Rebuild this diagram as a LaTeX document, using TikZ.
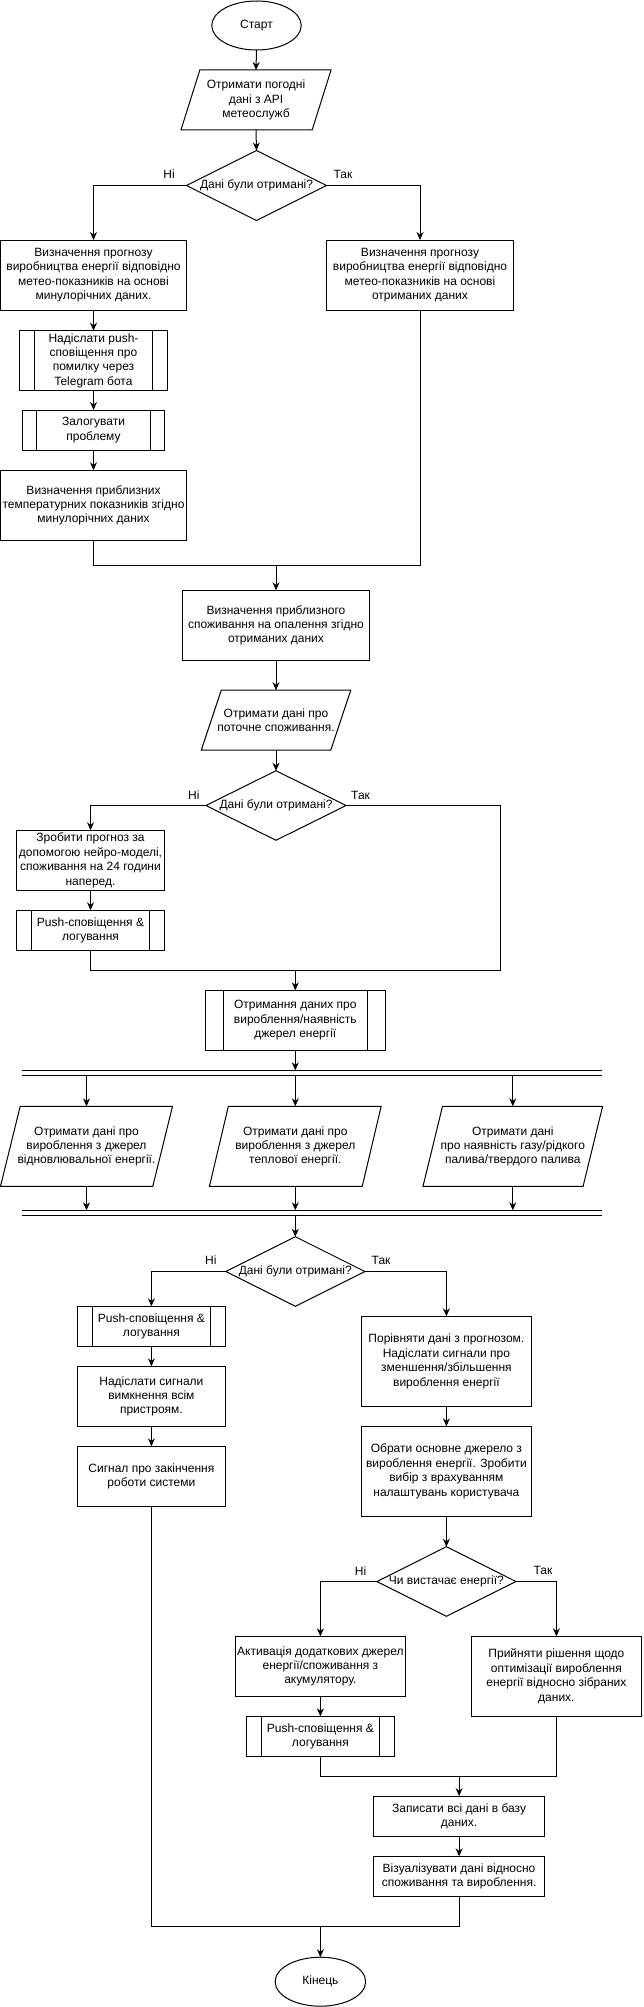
\documentclass[tikz,border=0pt]{standalone}
\usepackage{fontspec}
\setmainfont{Liberation Sans}
\usetikzlibrary{shapes.geometric,arrows.meta,calc}
\begin{document}
\begin{tikzpicture}[x=1pt,y=-1pt,line width=1pt,
  txt/.style={font=\fontsize{12pt}{14.4pt}\selectfont, align=center, inner sep=0pt, outer sep=0pt},
  box/.style={txt, draw, rectangle},
  subproc/.style={box, path picture={\draw[line width=1pt] ([xshift=#1]path picture bounding box.north west) -- ([xshift=#1]path picture bounding box.south west) ([xshift=-#1]path picture bounding box.north east) -- ([xshift=-#1]path picture bounding box.south east);}},
  term/.style={txt, draw, ellipse},
  dec/.style={txt, draw, diamond},
  io/.style={txt, rectangle},
  lbl/.style={txt},
  arr/.style={-{Stealth[length=8pt,width=7pt]}},
  bar/.style={rectangle, inner sep=0pt, outer sep=0pt, minimum height=5pt, minimum width=580pt}
]
\useasboundingbox (0,0) rectangle (643,2007);

% ---- top part
\node[term, minimum width=89.5pt, minimum height=49pt] (start) at (256.5,25.5) {Старт};
\node[io, minimum width=150.1pt, minimum height=60pt] (io1) at (256,100) {Отримати погодні\\дані з API\\метеослужб};
\draw ([xshift=18.9pt]io1.north west) -- (io1.north east) -- ([xshift=-18.9pt]io1.south east) -- (io1.south west) -- cycle;
\node[dec, minimum width=140.2pt, minimum height=70pt] (d1) at (256.5,185.5) {\makebox[0pt]{Дані були отримані?}};
\node[box, minimum width=186pt, minimum height=70pt] (b1L) at (93.5,275) {Визначення прогнозу\\виробництва енергії відповідно\\метео-показників на основі\\минулорічних даних.};
\node[box, minimum width=186.7pt, minimum height=70pt] (b1R) at (420,275) {Визначення прогнозу\\виробництва енергії відповідно\\метео-показників на основі\\отриманих даних};
\node[subproc=15pt, minimum width=148.2pt, minimum height=59.6pt] (sp1) at (93.5,360.5) {Надіслати push-\\сповіщення про\\помилку через\\Telegram бота};
\node[subproc=14pt, minimum width=142.2pt, minimum height=40pt] (sp2) at (93.5,430) {Залогувати\\проблему};
\node[box, minimum width=186pt, minimum height=70pt] (b2L) at (93.5,505.3) {Визначення приблизних\\температурних показників згідно\\минулорічних даних};
\coordinate (m1) at (276,565.3);
\node[box, minimum width=186.5pt, minimum height=70pt] (b3) at (276,625.3) {Визначення приблизного\\споживання на опалення згідно\\отриманих даних};
\node[io, minimum width=149.5pt, minimum height=60pt] (io2) at (276,720.2) {Отримати дані про\\поточне споживання.};
\draw ([xshift=20pt]io2.north west) -- (io2.north east) -- ([xshift=-20pt]io2.south east) -- (io2.south west) -- cycle;
\node[dec, minimum width=140.2pt, minimum height=69.5pt] (d2) at (276,805.5) {\makebox[0pt]{Дані були отримані?}};
\node[box, minimum width=148pt, minimum height=60pt] (b4) at (90.5,860.3) {Зробити прогноз за\\допомогою нейро-моделі,\\споживання на 24 години\\наперед.};
\node[subproc=15pt, minimum width=148pt, minimum height=40pt] (sp3) at (90.5,930.3) {Push-сповіщення \&\\логування};
\coordinate (m2) at (295.3,970.3);
\coordinate (r2) at (500.8,970.3);
\node[subproc=18.5pt, minimum width=180.5pt, minimum height=59.7pt] (sp4) at (295.3,1020.2) {Отримання даних про\\вироблення/наявність\\джерел енергії};

% ---- parallel block
\node[bar] (bar1) at (311.7,1072.8) {};
\draw (bar1.north west) -- (bar1.north east) (bar1.south west) -- (bar1.south east);
\node[io, minimum width=172pt, minimum height=80pt] (ioA) at (86.5,1146.3) {Отримати дані про\\вироблення з джерел\\відновлювальної енергії.};
\draw ([xshift=19.7pt]ioA.north west) -- (ioA.north east) -- ([xshift=-19.7pt]ioA.south east) -- (ioA.south west) -- cycle;
\node[io, minimum width=171.7pt, minimum height=80pt] (ioB) at (295.3,1146.3) {Отримати дані про\\вироблення з джерел\\теплової енергії.};
\draw ([xshift=18.9pt]ioB.north west) -- (ioB.north east) -- ([xshift=-18.9pt]ioB.south east) -- (ioB.south west) -- cycle;
\node[io, minimum width=179.6pt, minimum height=80pt] (ioC) at (512.8,1146.3) {Отримати дані\\про наявність газу/рідкого\\палива/твердого палива};
\draw ([xshift=19.5pt]ioC.north west) -- (ioC.north east) -- ([xshift=-19.5pt]ioC.south east) -- (ioC.south west) -- cycle;
\node[bar] (bar2) at (311.7,1212.8) {};
\draw (bar2.north west) -- (bar2.north east) (bar2.south west) -- (bar2.south east);

% ---- lower part
\node[dec, minimum width=139.2pt, minimum height=69.6pt] (d3) at (295.3,1271.5) {\makebox[0pt]{Дані були отримані?}};
\node[subproc=15.1pt, minimum width=148.3pt, minimum height=40pt] (sp5) at (151.4,1326.3) {Push-сповіщення \&\\логування};
\node[box, minimum width=147.6pt, minimum height=60pt] (b5) at (151.4,1396.3) {Надіслати сигнали\\вимкнення всім\\пристроям.};
\node[box, minimum width=147.6pt, minimum height=60pt] (b6) at (151.4,1476.3) {Сигнал про закінчення\\роботи системи};
\node[box, minimum width=170.5pt, minimum height=90pt] (b7) at (446.4,1361.3) {Порівняти дані з прогнозом.\\Надіслати сигнали про\\зменшення/збільшення\\вироблення енергії};
\node[box, minimum width=170.5pt, minimum height=90pt] (b8) at (446.4,1471.3) {Обрати основне джерело з\\вироблення енергії. Зробити\\вибір з врахуванням\\налаштувань користувача};
\node[dec, minimum width=139pt, minimum height=69.6pt] (d4) at (446.4,1581.5) {\makebox[0pt]{Чи вистачає енергії?}};
\node[box, minimum width=170pt, minimum height=60pt] (b9) at (320.4,1666.3) {Активація додаткових джерел\\енергії/споживання з\\акумулятору.};
\node[subproc=15.2pt, minimum width=148.3pt, minimum height=40pt] (sp6) at (320.4,1736.3) {Push-сповіщення \&\\логування};
\node[box, minimum width=170pt, minimum height=80pt] (b10) at (556.4,1676.3) {Прийняти рішення щодо\\оптимізації вироблення\\енергії відносно зібраних\\даних.};
\coordinate (m3) at (459.1,1776.3);
\node[box, minimum width=170.4pt, minimum height=40.3pt] (b11) at (459.1,1816.2) {Записати всі дані в базу\\даних.};
\node[box, minimum width=170.4pt, minimum height=40pt] (b12) at (459.1,1876.3) {Візуалізувати дані відносно\\споживання та вироблення.};
\coordinate (m4) at (320.4,1926);
\node[term, minimum width=90.5pt, minimum height=49pt] (stop) at (320.4,1981.7) {Кінець};

% ---- labels
\node[lbl] (n1) at (169,174) {Ні};
\node[lbl] (y1) at (343,174) {Так};
\node[lbl] (n2) at (193.9,795) {Ні};
\node[lbl] (y2) at (360.6,795) {Так};
\node[lbl] (n3) at (210.8,1260) {Ні};
\node[lbl] (y3) at (381.1,1260) {Так};
\node[lbl] (n4) at (360.6,1570.7) {Ні};
\node[lbl] (y4) at (542.9,1570.7) {Так};

% ---- connectors
\draw[arr] (start.south) -- (io1.north);
\draw[arr] (io1.south) -- (d1.north);
\draw[arr] (d1.west) -| (b1L.north);
\draw[arr] (d1.east) -| (b1R.north);
\draw[arr] (b1L.south) -- (sp1.north);
\draw[arr] (sp1.south) -- (sp2.north);
\draw[arr] (sp2.south) -- (b2L.north);
\draw (b2L.south) |- (m1);
\draw (b1R.south) |- (m1);
\draw[arr] (m1) -- (b3.north);
\draw[arr] (b3.south) -- (io2.north);
\draw[arr] (io2.south) -- (d2.north);
\draw[arr] (d2.west) -| (b4.north);
\draw[arr] (b4.south) -- (sp3.north);
\draw (sp3.south) |- (m2);
\draw (d2.east) -| (r2) -- (m2);
\draw[arr] (m2) -- (sp4.north);
\draw[arr] (sp4.south) -- (sp4.south |- bar1.north);
\draw[arr] (ioA.north |- bar1.south) -- (ioA.north);
\draw[arr] (ioB.north |- bar1.south) -- (ioB.north);
\draw[arr] (ioC.north |- bar1.south) -- (ioC.north);
\draw[arr] (ioA.south) -- (ioA.south |- bar2.north);
\draw[arr] (ioB.south) -- (ioB.south |- bar2.north);
\draw[arr] (ioC.south) -- (ioC.south |- bar2.north);
\draw[arr] (d3.north |- bar2.south) -- (d3.north);
\draw[arr] (d3.west) -| (sp5.north);
\draw[arr] (d3.east) -| (b7.north);
\draw[arr] (sp5.south) -- (b5.north);
\draw[arr] (b5.south) -- (b6.north);
\draw (b6.south) |- (m4);
\draw[arr] (b7.south) -- (b8.north);
\draw[arr] (b8.south) -- (d4.north);
\draw[arr] (d4.west) -| (b9.north);
\draw[arr] (d4.east) -| (b10.north);
\draw[arr] (b9.south) -- (sp6.north);
\draw (sp6.south) |- (m3);
\draw (b10.south) |- (m3);
\draw[arr] (m3) -- (b11.north);
\draw[arr] (b11.south) -- (b12.north);
\draw (b12.south) |- (m4);
\draw[arr] (m4) -- (stop.north);
\end{tikzpicture}
\end{document}
